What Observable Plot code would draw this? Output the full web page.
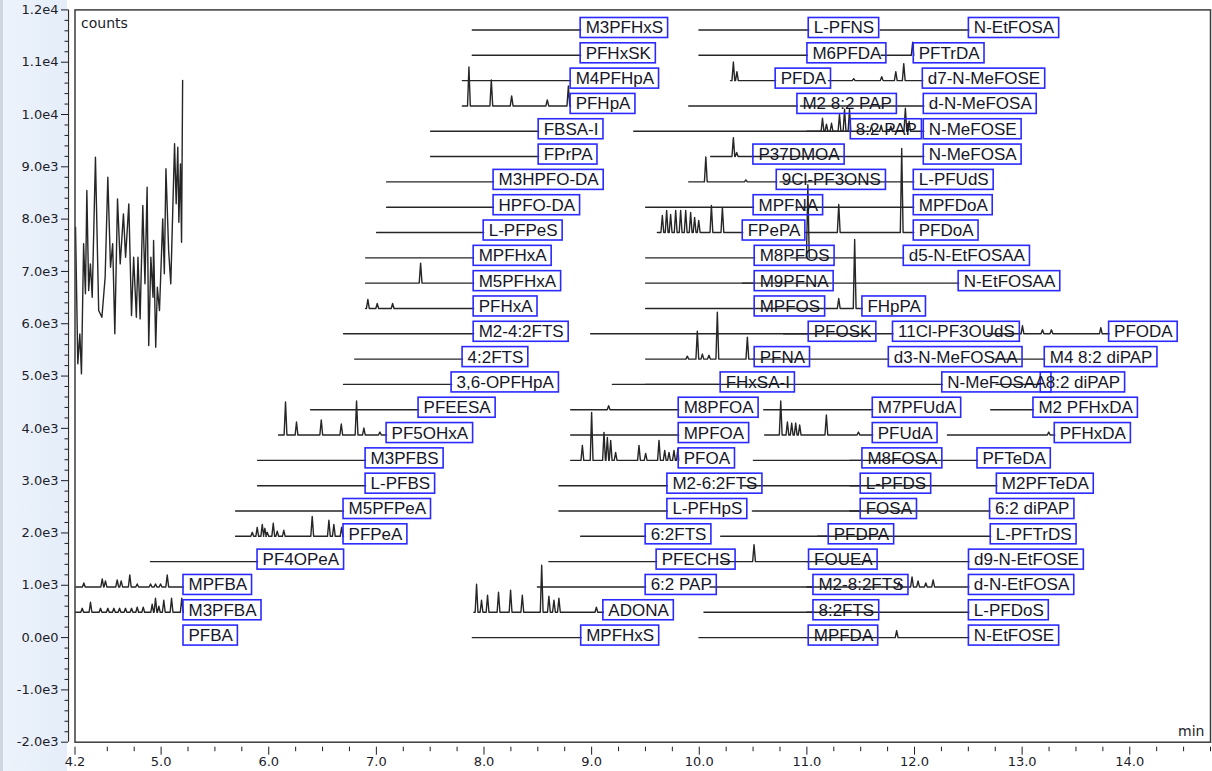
<!DOCTYPE html>
<html>
<head>
<meta charset="utf-8">
<script src="https://cdn.jsdelivr.net/npm/d3@7"></script>
<script src="https://cdn.jsdelivr.net/npm/@observablehq/plot@0.6"></script>
<style>
  html, body { margin: 0; padding: 0; background: #fff; }
  #chart { position: relative; width: 1212px; height: 771px; overflow: hidden;
    background: linear-gradient(to right, #cfd6df 0, #cfd6df 3px, #edf3fb 3px, #e4edf9 67px, #ffffff 67px); }
  #chart svg { display: block; }
</style>
</head>
<body>
<div id="chart"></div>
<script>
// ---------- data ----------
const ROW_STEP = 484;          // offset between stacked chromatograms (counts)
const PEAK_HALF_WIDTH = 0.013; // minutes

// [compound, row, start time (min), end time (min)]
const traces = [
  ["PFBA",0,4.205,5.208],["M3PFBA",1,4.205,5.208],["MPFBA",2,4.205,5.208],
  ["PF4OPeA",3,4.902,5.896],["PFPeA",4,5.692,6.695],["M5PFPeA",5,5.692,6.695],
  ["L-PFBS",6,5.896,6.900],["M3PFBS",7,5.896,6.900],["PF5OHxA",8,6.091,7.095],
  ["PFEESA",9,6.389,7.392],["3,6-OPFHpA",10,6.695,7.699],["4:2FTS",11,6.798,7.801],
  ["M2-4:2FTS",12,6.695,7.904],["PFHxA",13,6.900,7.904],["M5PFHxA",14,6.900,7.904],
  ["MPFHxA",15,6.900,7.904],["L-PFPeS",16,7.002,7.997],["HPFO-DA",17,7.095,8.089],
  ["M3HPFO-DA",18,7.095,8.089],["FPrPA",19,7.504,8.508],["FBSA-I",20,7.504,8.508],
  ["PFHpA",21,7.799,8.805],["M4PFHpA",22,7.799,8.805],["PFHxSK",23,7.891,8.898],
  ["M3PFHxS",24,7.891,8.898],

  ["MPFHxS",0,7.891,8.903],["ADONA",1,7.906,9.109],["6:2 PAP",2,8.496,9.502],
  ["PFECHS",3,8.603,9.604],["6:2FTS",4,8.898,9.502],["L-PFHpS",5,8.696,9.704],
  ["M2-6:2FTS",6,8.696,9.704],["PFOA",7,8.805,9.809],["MPFOA",8,8.805,9.809],
  ["M8PFOA",9,8.805,9.809],["FHxSA-I",10,9.193,10.199],["PFNA",11,9.502,10.515],
  ["PFOSK",12,8.991,11.017],["MPFOS",13,9.502,10.515],["M9PFNA",14,9.502,10.515],
  ["M8PFOS",15,9.502,10.515],["FPePA",16,9.611,10.404],["MPFNA",17,9.502,10.505],
  ["9Cl-PF3ONS",18,9.902,10.720],["P37DMOA",19,10.106,10.503],["8:2 PAP",20,9.391,11.408],
  ["M2 8:2 PAP",21,9.902,10.912],["PFDA",22,10.29,10.710],["M6PFDA",23,9.997,11.005],
  ["L-PFNS",24,9.997,11.017],

  ["MPFDA",0,9.997,11.017],["8:2FTS",1,10.044,11.061],["M2-8:2FTS",2,10.10,11.061],
  ["FOUEA",3,10.20,11.020],["PFDPA",4,10.199,11.203],["FOSA",5,10.494,11.500],
  ["L-PFDS",6,10.40,11.500],["M8FOSA",7,10.503,11.516],["PFUdA",8,10.608,11.612],
  ["M7PFUdA",9,10.599,11.612],["N-MeFOSAA",10,9.50,12.258],["d3-N-MeFOSAA",11,10.50,11.761],
  ["11Cl-PF3OUdS",12,10.784,11.800],["FHpPA",13,10.52,11.516],["N-EtFOSAA",14,10.401,12.41],
  ["d5-N-EtFOSAA",15,10.85,11.900],["PFDoA",16,10.988,11.993],["MPFDoA",17,10.90,11.993],
  ["L-PFUdS",18,10.75,11.993],["N-MeFOSA",19,10.50,12.086],["N-MeFOSE",20,11.00,12.086],
  ["d-N-MeFOSA",21,10.94,12.086],["d7-N-MeFOSE",22,11.20,12.077],["PFTrDA",23,11.69,11.993],
  ["N-EtFOSA",24,11.68,12.505],

  ["N-EtFOSE",0,11.00,12.505],["L-PFDoS",1,11.00,12.505],["d-N-EtFOSA",2,11.00,12.505],
  ["d9-N-EtFOSE",3,11.00,12.506],["L-PFTrDS",4,11.10,12.708],["6:2 diPAP",5,11.40,12.702],
  ["M2PFTeDA",6,11.40,12.765],["PFTeDA",7,11.40,12.585],["PFHxDA",8,12.306,13.303],
  ["M2 PFHxDA",9,12.708,13.105],["8:2 diPAP",10,12.758,13.173],["M4 8:2 diPAP",11,12.73,13.210],
  ["PFODA",12,12.68,13.808]
];

// peaks: [retention time (min), height above the trace's baseline (counts)]
const peaks = {
  "M3PFBA": [[4.267,76],[4.344,191],[4.437,76],[4.505,76],[4.561,76],[4.614,76],[4.669,76],[4.725,76],[4.778,96],[4.834,96],[4.917,153],[4.948,268],[4.979,115],[5.025,229],[5.097,268],[5.192,268]],
  "MPFBA": [[4.282,76],[4.453,153],[4.483,115],[4.592,134],[4.629,115],[4.709,229],[4.778,57],[4.902,57],[4.948,57],[4.995,57],[5.057,229]],
  "PFPeA": [[5.847,76],[5.893,172],[5.940,229],[5.964,153],[5.986,76],[6.042,249],[6.079,96],[6.140,115],[6.404,382],[6.559,306],[6.605,229],[6.677,172]],
  "PF5OHxA": [[6.156,631],[6.258,249],[6.488,287],[6.674,210],[6.816,650],[6.884,134],[7.033,57]],
  "PFHxA": [[6.921,172],[7.008,96],[7.151,96]],
  "M5PFHxA": [[7.411,382]],
  "PFHpA": [[7.860,746],[8.068,497],[8.257,191],[8.588,115],[8.784,382]],
  "ADONA": [[7.931,535],[7.977,229],[8.033,325],[8.135,382],[8.247,421],[8.356,325],[8.536,899],[8.603,306],[8.650,229],[8.696,268],[9.044,96]],
  "PFOA": [[8.914,287],[9.000,918],[9.115,535],[9.146,440],[9.177,382],[9.223,153],[9.440,287],[9.502,134],[9.626,382],[9.679,191],[9.719,153],[9.765,191],[9.802,229]],
  "M8PFOA": [[9.158,76]],
  "PFNA": [[9.889,57],[9.982,535],[10.029,96],[10.090,76],[10.168,899],[10.447,421]],
  "FPePA": [[9.657,325],[9.697,421],[9.734,344],[9.781,421],[9.827,421],[9.874,421],[9.920,382],[9.957,287],[9.995,229],[10.113,516],[10.215,478]],
  "9Cl-PF3ONS": [[10.061,478],[10.433,38]],
  "P37DMOA": [[10.317,363],[10.348,76]],
  "PFDA": [[10.317,356],[10.350,172]],
  "8:2 PAP": [[11.145,249],[11.182,134],[11.229,153],[11.303,325],[11.350,421],[11.396,421]],
  "N-MeFOSE": [[11.60,96],[11.69,115],[11.78,96],[11.915,440],[11.95,191]],
  "d7-N-MeFOSE": [[11.435,38],[11.695,76],[11.826,172],[11.900,325]],
  "PFTrDA": [[11.983,249]],
  "PFUdA": [[10.757,650],[10.819,249],[10.859,229],[10.896,229],[10.933,191],[11.181,382],[11.479,57]],
  "PFHxDA": [[13.247,57]],
  "PFODA": [[13.003,153],[13.189,76],[13.272,76],[13.731,115]],
  "FHpPA": [[11.296,191],[11.444,1319]],
  "d5-N-EtFOSAA": [[11.009,1396]],
  "PFDoA": [[11.296,535],[11.881,1606]],
  "FOUEA": [[10.509,325]],
  "d-N-EtFOSA": [[11.857,96],[11.977,191],[12.033,115],[12.105,76],[12.173,134]],
  "N-EtFOSE": [[11.834,134]]
};

// PFBA trace (absolute counts, noisy high background)
const pfbaTrace = [
  [4.205,7845],[4.226,5233],[4.245,5807],[4.26,5042],[4.28,7528],[4.297,6572],[4.31,8547],[4.327,6635],
  [4.343,7145],[4.36,6507],[4.39,9184],[4.42,6252],[4.45,6124],[4.48,6889],[4.505,8801],[4.53,7080],
  [4.55,7528],[4.57,5807],[4.595,8388],[4.62,7145],[4.65,8101],[4.67,7272],[4.70,8292],[4.725,6157],
  [4.745,7272],[4.77,6124],[4.785,7272],[4.805,6093],[4.83,8260],[4.85,6763],[4.87,8610],[4.885,5583],
  [4.905,7272],[4.925,6507],[4.93,7591],[4.95,5551],[4.965,6698],[4.985,6252],[5.015,8005],[5.03,6954],
  [5.045,8962],[5.07,7400],[5.09,6763],[5.125,9440],[5.14,8292],[5.155,9375],[5.165,7941],[5.18,9057],
  [5.19,7559],[5.20,10650]
];

const yMajorTicks = [-2000,-1000,0,1000,2000,3000,4000,5000,6000,7000,8000,9000,10000,11000,12000];
const xMajorTicks = [4.2,5,6,7,8,9,10,11,12,13,14];

// ---------- layout ----------
const W = 1212, H = 771, ML = 74.5, MR = 2, MT = 9.4, MB = 29.3;
const X_DOMAIN = [4.2, 14.75], Y_DOMAIN = [-2000, 12000];
const LABEL_SIZE = 17, LABEL_PAD = 5;
const yMinorTicks = d3.range(-2000, 12001, 200).filter(v => v % 1000 !== 0);
const xMinorTicks = d3.range(4.5, 14.76, 0.25).filter(t => Math.abs(t - Math.round(t)) > 1e-6);

const lineData = [];
for (const [name, row, t0, t1] of traces) {
  const base = row * ROW_STEP;
  let pts;
  if (name === "PFBA") {
    pts = pfbaTrace;
  } else {
    pts = [[t0, base]];
    const pk = (peaks[name] || []).slice().sort((a, b) => a[0] - b[0]);
    for (const [t, h] of pk) {
      pts.push([Math.max(t0, t - PEAK_HALF_WIDTH), base], [t, base + h], [Math.min(t1, t + PEAK_HALF_WIDTH), base]);
    }
    pts.push([t1, base]);
  }
  for (const [t, v] of pts) lineData.push({name, t, v});
}

const ctx = document.createElement("canvas").getContext("2d");
ctx.font = `${LABEL_SIZE}px "Liberation Sans", Arial, sans-serif`;
const pxPerMin = (W - ML - MR) / (X_DOMAIN[1] - X_DOMAIN[0]);
const countsPerPx = (Y_DOMAIN[1] - Y_DOMAIN[0]) / (H - MT - MB);
const labelData = traces.map(([name, row, t0, t1]) => {
  const wpx = ctx.measureText(name).width + 2 * LABEL_PAD;
  const v = row * ROW_STEP;
  return {name, t: t1, v, t2: t1 + wpx / pxPerMin, v1: v - 8 * countsPerPx, v2: v + 12 * countsPerPx};
});

const fmtY = d => d3.format(".1e")(d).replace("+", "").replace("\u2212", "-");

const chart = Plot.plot({
  width: W, height: H,
  marginLeft: ML, marginRight: MR, marginTop: MT, marginBottom: MB,
  x: {domain: X_DOMAIN, label: null},
  y: {domain: Y_DOMAIN, label: null},
  style: {fontFamily: "'DejaVu Sans', sans-serif", fontSize: "13px", background: "transparent", color: "#1d1d2b", overflow: "visible"},
  marks: [
    Plot.line(lineData, {x: "t", y: "v", z: "name", stroke: "#262626", strokeWidth: 1.4}),
    Plot.rect(labelData, {x1: "t", x2: "t2", y1: "v1", y2: "v2", fill: "none", stroke: "#2a2aff", strokeWidth: 1.6}),
    Plot.text(labelData, {x: "t", y: "v", text: "name", textAnchor: "start", dx: LABEL_PAD, dy: -2,
      fontSize: LABEL_SIZE, fontFamily: "'Liberation Sans', Arial, sans-serif", fill: "#16162a"}),
    Plot.frame({stroke: "#3c3c3c", strokeWidth: 1.5}),
    Plot.ruleX([X_DOMAIN[0]], {dx: -6.5, stroke: "#2b2b2b", strokeWidth: 1.2}),
    Plot.axisY(yMajorTicks, {anchor: "left", tickSize: 7, tickPadding: 3, dx: -6.5, tickFormat: fmtY, label: null}),
    Plot.axisY(yMinorTicks, {anchor: "left", tickSize: 3.5, dx: -6.5, tickFormat: () => "", label: null}),
    Plot.axisX(xMajorTicks, {anchor: "bottom", tickSize: 8, tickPadding: 2, dy: 5, tickFormat: d => d.toFixed(1), label: null}),
    Plot.axisX(xMinorTicks, {anchor: "bottom", tickSize: 4.5, dy: 5, tickFormat: () => "", label: null}),
    Plot.text(["counts"], {frameAnchor: "top-left", dx: 6, dy: 8, fontSize: 14}),
    Plot.text(["min"], {frameAnchor: "bottom-right", dx: -6, dy: -6, fontSize: 14})
  ]
});
document.getElementById("chart").appendChild(chart);
</script>
</body>
</html>
